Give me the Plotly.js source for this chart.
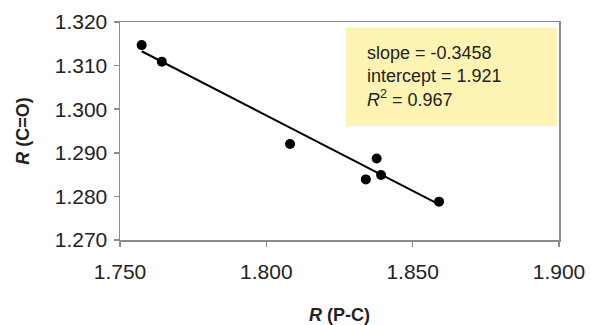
<!DOCTYPE html>
<html>
<head>
<meta charset="utf-8">
<script src="https://cdn.plot.ly/plotly-3.0.1.min.js"></script>
<style>html,body{margin:0;padding:0;background:#fff;}#chart{width:591px;height:325px;}</style>
</head>
<body>
<div id="chart"></div>
<script>
// Data
const rPC = [1.7574, 1.7643, 1.8081, 1.8377, 1.8340, 1.8392, 1.8590];
const rCO = [1.3147, 1.3109, 1.2920, 1.2887, 1.2839, 1.2849, 1.2788];
const slope = -0.3458;
const intercept = 1.921;
const r2 = 0.967;
const xTicks = [1.750, 1.800, 1.850, 1.900];
const yTicks = [1.270, 1.280, 1.290, 1.300, 1.310, 1.320];

const xMin = Math.min(...rPC), xMax = Math.max(...rPC);
const fitX = [xMin, xMax];
const fitY = fitX.map(x => slope * x + intercept);

const font = "Arial, 'Liberation Sans', sans-serif";
const axisCol = '#8c8c8c';

const traces = [
  {x: fitX, y: fitY, mode: 'lines', line: {color: '#000', width: 2}, hoverinfo: 'skip'},
  {x: rPC, y: rCO, mode: 'markers', marker: {color: '#000', size: 10}}
];

const layout = {
  width: 591, height: 325,
  margin: {l: 120, r: 32, t: 22, b: 85},
  paper_bgcolor: '#fff', plot_bgcolor: '#fff',
  showlegend: false,
  font: {family: font, color: '#222'},
  xaxis: {
    range: [1.750, 1.900], tickvals: xTicks, ticktext: xTicks.map(v => v.toFixed(3)),
    showgrid: false, zeroline: false,
    showline: true, mirror: true, linecolor: axisCol, linewidth: 1.5,
    ticks: 'outside', ticklen: 5, tickcolor: axisCol, tickwidth: 1.5,
    ticklabelstandoff: 7,
    tickfont: {size: 21, color: '#222'},
    title: {text: '<b><i>R</i> (P-C)</b>', font: {size: 18, color: '#222'}, standoff: 27}
  },
  yaxis: {
    range: [1.270, 1.320], tickvals: yTicks, ticktext: yTicks.map(v => v.toFixed(3)),
    showgrid: false, zeroline: false,
    showline: true, mirror: true, linecolor: axisCol, linewidth: 1.5,
    ticks: 'outside', ticklen: 5, tickcolor: axisCol, tickwidth: 1.5,
    ticklabelstandoff: 2,
    tickfont: {size: 21, color: '#222'},
    title: {text: '<b><i>R</i> (C=O)</b>', font: {size: 18, color: '#222'}, standoff: 20}
  },
  shapes: [{
    type: 'rect', xref: 'paper', yref: 'paper',
    x0: 0.515, x1: 0.995, y0: 0.523, y1: 0.976,
    fillcolor: '#fdf4b4', line: {width: 0}, layer: 'below'
  }],
  annotations: [{
    xref: 'paper', yref: 'paper', x: 0.558, y: 0.752,
    xanchor: 'left', yanchor: 'middle', align: 'left', showarrow: false,
    text: 'slope = ' + slope.toFixed(4) + '<br>intercept = ' + intercept.toFixed(3) +
          '<br><i>R</i><sup>2</sup> = ' + r2.toFixed(3),
    font: {size: 18, color: '#222', family: font}
  }]
};

Plotly.newPlot('chart', traces, layout, {displayModeBar: false, staticPlot: true});
</script>
</body>
</html>
